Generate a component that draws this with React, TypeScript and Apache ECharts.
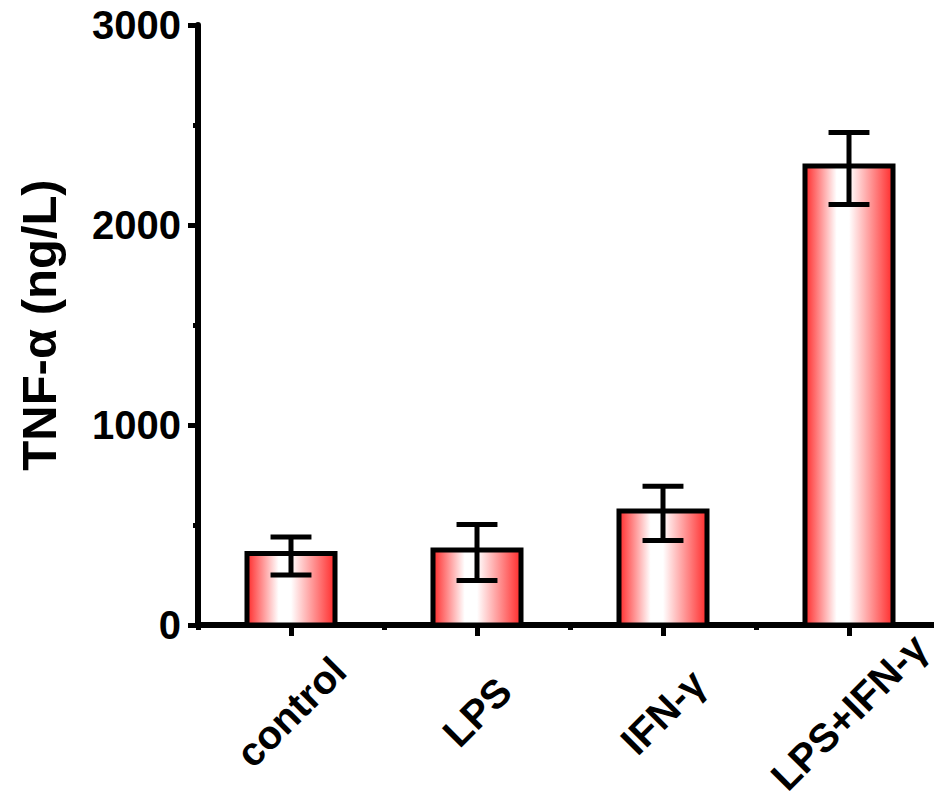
import React, { useEffect, useRef } from "react";
import * as echarts from "echarts";

const categories = ["control", "LPS", "IFN-γ", "LPS+IFN-γ"];
const means = [345, 363, 558, 2283];
const errors = [95, 140, 136, 180];
const yTicks = [0, 1000, 2000, 3000];

const FONT = 'Arial, "Liberation Sans", Helvetica, sans-serif';

export default function App() {
  const ref = useRef<HTMLDivElement>(null);

  useEffect(() => {
    if (!ref.current) return;
    const chart = echarts.init(ref.current, undefined, { renderer: "svg" });

    const data = categories.map((_, i) => [i, means[i], errors[i]]);

    const option = {
      animation: false,
      backgroundColor: "#ffffff",
      grid: {
        left: 198,
        top: 25,
        width: 744,
        bottom: 178,
        containLabel: false,
        outerBoundsMode: "none",
      },
      xAxis: [
        {
          type: "category",
          data: categories,
          axisLine: { show: true, lineStyle: { color: "#000", width: 6 } },
          axisTick: { show: true, alignWithLabel: true, length: 11, lineStyle: { color: "#000", width: 5 } },
          axisLabel: {
            show: true,
            rotate: 45,
            align: "center",
            verticalAlign: "middle",
            margin: 87,
            fontSize: 40,
            fontWeight: "bold",
            fontFamily: FONT,
            color: "#000",
            hideOverlap: false,
          },
          splitLine: { show: false },
        },
        {
          type: "category",
          data: categories,
          position: "bottom",
          axisLine: { show: false },
          axisTick: { show: true, alignWithLabel: false, length: 5, lineStyle: { color: "#000", width: 5 } },
          axisLabel: { show: false },
          splitLine: { show: false },
        },
      ],
      yAxis: {
        type: "value",
        min: yTicks[0],
        max: yTicks[yTicks.length - 1],
        interval: yTicks[1] - yTicks[0],
        name: "TNF-α (ng/L)",
        nameLocation: "middle",
        nameGap: 135,
        nameTextStyle: { fontSize: 49, fontWeight: "bold", fontFamily: FONT, color: "#000" },
        axisLine: { show: true, lineStyle: { color: "#000", width: 6 } },
        axisTick: { show: true, length: 10, lineStyle: { color: "#000", width: 5 } },
        minorTick: { show: true, splitNumber: 2, length: 5, lineStyle: { color: "#000", width: 5 } },
        axisLabel: {
          margin: 17,
          fontSize: 40,
          fontWeight: "bold",
          fontFamily: FONT,
          color: "#000",
          formatter: (v: number) => String(v),
        },
        splitLine: { show: false },
        minorSplitLine: { show: false },
      },
      series: [
        {
          type: "custom",
          coordinateSystem: "cartesian2d",
          xAxisIndex: 0,
          yAxisIndex: 0,
          encode: { x: 0, y: 1 },
          data,
          renderItem: (params: any, api: any) => {
            const idx = api.value(0);
            const mean = api.value(1);
            const err = api.value(2);
            const [cx, yv] = api.coord([idx, mean]);
            const y0 = api.coord([idx, 0])[1];
            const yTop = api.coord([idx, mean + err])[1];
            const yBot = api.coord([idx, mean - err])[1];
            const band = api.size([1, 0])[0];
            const half = band * 0.2366;
            const bw = 5;
            const capHalf = band * 0.11;
            const lineStyle = { stroke: "#000", lineWidth: 5, fill: null };
            return {
              type: "group",
              children: [
                {
                  type: "rect",
                  shape: { x: cx - half, y: yv - bw / 2, width: half * 2, height: y0 - yv + bw / 2 },
                  style: {
                    fill: new echarts.graphic.LinearGradient(0, 0, 1, 0, [
                      { offset: 0, color: "#ff2a2a" },
                      { offset: 0.36, color: "#ffffff" },
                      { offset: 0.5, color: "#ffffff" },
                      { offset: 1, color: "#ff2a2a" },
                    ]),
                    stroke: "#000",
                    lineWidth: bw,
                  },
                },
                { type: "line", shape: { x1: cx, y1: yTop, x2: cx, y2: yBot }, style: lineStyle },
                { type: "line", shape: { x1: cx - capHalf, y1: yTop, x2: cx + capHalf, y2: yTop }, style: lineStyle },
                { type: "line", shape: { x1: cx - capHalf, y1: yBot, x2: cx + capHalf, y2: yBot }, style: lineStyle },
              ],
            };
          },
        },
      ],
    };

    chart.setOption(option as any);
    return () => {
      chart.dispose();
    };
  }, []);

  return (
    <div
      ref={ref}
      style={{ position: "fixed", left: 0, top: 0, width: 934, height: 803, background: "#fff" }}
    />
  );
}
